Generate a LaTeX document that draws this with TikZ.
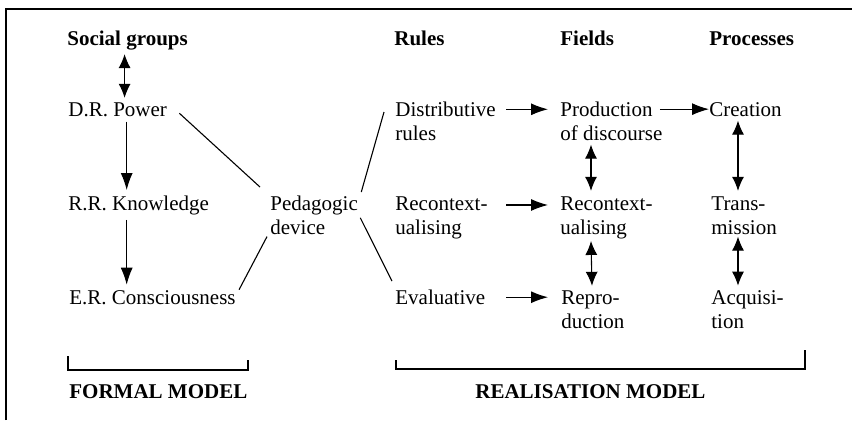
\documentclass[tikz,border=0pt]{standalone}
\usepackage{fontspec}
\setmainfont{Liberation Serif}
\usepackage{tikz}
\usetikzlibrary{calc,arrows.meta,positioning}
\tikzset{
  ar/.style={-{Latex[length=8.5pt,width=6pt]},line width=0.55pt},
  dar/.style={{Latex[length=7pt,width=6pt]}-{Latex[length=7pt,width=6pt]},line width=0.55pt},
  lbl/.style={anchor=base west,inner sep=0pt,align=left,font=\fontsize{10.5}{12}\selectfont},
  hd/.style={lbl,font=\fontsize{10.5}{12}\selectfont\bfseries},
  ln/.style={line width=0.55pt}
}
\newcommand{\brk}[5]{%
  \draw[ln] (#1,#2)--(#1,#5)--(#3,#5)--(#3,#4);}

\begin{document}
\begin{tikzpicture}[x=0.5pt,y=-0.5pt]
\useasboundingbox[fill=white] (0,0) rectangle (852,420);
\draw[line width=1pt] (6,420)--(6,9)--(852,9);
% column heads
\node[hd] (sg) at (67,45) {Social groups};
\node[hd] (rul) at (394,45) {Rules};
\node[hd] (fld) at (560,45) {Fields};
\node[hd] (prc) at (709,45) {Processes};
% formal model (two-line nodes sit on their last baseline)
\node[lbl] (pow) at (68,116) {D.R. Power};
\node[lbl] (know) at (68,210) {R.R. Knowledge};
\node[lbl] (cons) at (69,304) {E.R. Consciousness};
\node[lbl] (ped) at (270,234) {Pedagogic\\device};
% realisation model
\node[lbl] (dist) at (395,140) {Distributive\\rules};
\node[lbl] (recr) at (395,234) {Recontext-\\ualising};
\node[lbl] (eval) at (395,304) {Evaluative};
\node[lbl] (prod) at (560,140) {Production\\of discourse};
\node[lbl] (recf) at (560,234) {Recontext-\\ualising};
\node[lbl] (repr) at (561,328) {Repro-\\duction};
\node[lbl] (crea) at (709,116) {Creation};
\node[lbl] (trans) at (711,234) {Trans-\\mission};
\node[lbl] (acq) at (711,328) {Acquisi-\\tion};
\node[hd] (fm) at (69,398) {FORMAL MODEL};
\node[hd] (rm) at (475,398) {REALISATION MODEL};

\draw[dar] ([shift={(-3,4)}]sg.south) -- ([shift={(-3,-4)}]sg.south |- pow.north);
\draw[ar] ([shift={(9,5)}]pow.south) -- ([shift={(9,-5)}]pow.south |- know.north);
\draw[ar] ([shift={(9,5)}]pow.south |- know.south) -- ([shift={(9,-5)}]pow.south |- cons.north);

\draw[ln] ([shift={(12,4)}]pow.east) -- ([shift={(-10,-8)}]ped.north west);
\draw[ln] ([shift={(-3,2)}]ped.south west) -- ([shift={(3,0)}]cons.north east);
\draw[ln] ([shift={(3,-3)}]ped.north east) -- ([shift={(-11,11)}]dist.north west);
\draw[ln] ([shift={(2,3)}]ped.east) -- ([shift={(-3,-8)}]eval.north west);

\draw[ar] ([xshift=5pt]dist.east |- pow.east) -- ([xshift=-6pt]prod.west |- pow.east);
\draw[ar] ([xshift=5pt]dist.east |- know.east) -- ([xshift=-6pt]prod.west |- know.east);
\draw[ar] ([xshift=5pt]dist.east |- cons.east) -- ([xshift=-6pt]prod.west |- cons.east);
\draw[ar] ([xshift=-1.5pt]prod.east |- crea.west) -- (crea.west);

\draw[dar] ([shift={(31,4)}]prod.south west) -- ([shift={(31,-5)}]recf.north west);
\draw[dar] ([shift={(31,2)}]recf.south west) -- ([shift={(31,-4)}]repr.north west);
\draw[dar] ([shift={(29,4)}]crea.south west) -- ([shift={(27,-5)}]trans.north west);
\draw[dar] ([shift={(27,2)}]trans.south west) -- ([shift={(27,-4)}]acq.north west);

\brk{68}{356}{248}{360}{370}
\brk{396}{360}{805}{350}{369}
\end{tikzpicture}
\end{document}
